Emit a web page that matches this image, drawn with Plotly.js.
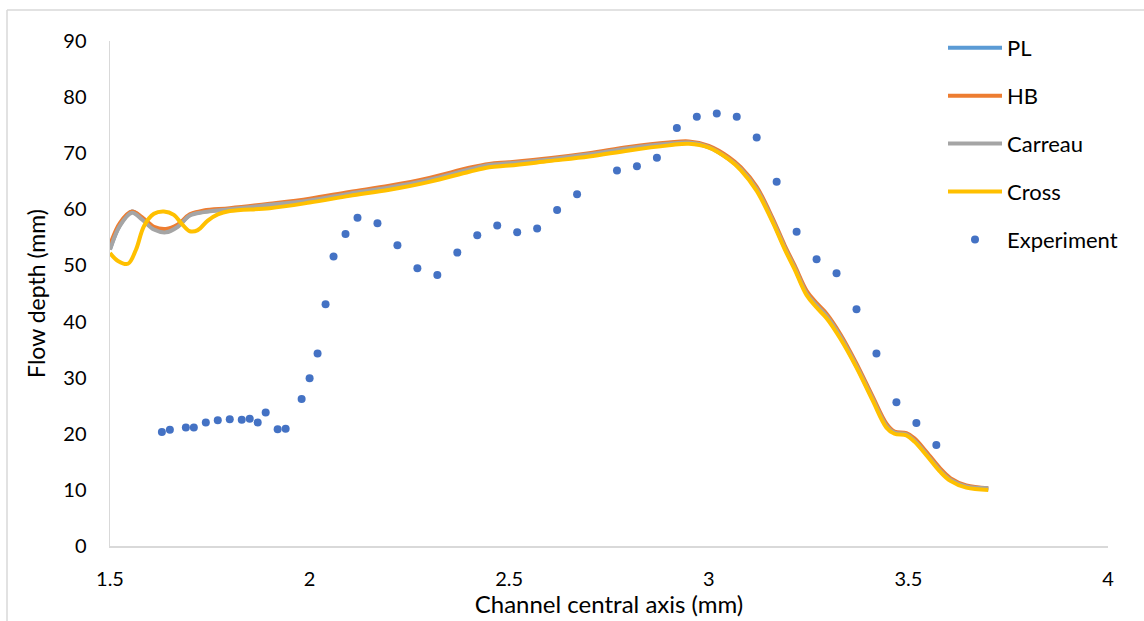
<!DOCTYPE html>
<html>
<head>
<meta charset="utf-8">
<script src="https://cdn.plot.ly/plotly-3.0.1.min.js"></script>
<style>
  html, body { margin: 0; padding: 0; background: #fff; }
  #chart { width: 1144px; height: 621px; }
</style>
</head>
<body>
<div id="chart"></div>
<script>
// Simulated flow depth along the channel axis for four rheology models
const plX = [1.50, 1.525, 1.555, 1.58, 1.61, 1.64, 1.67, 1.70, 1.735, 1.80, 1.90, 2.00, 2.10, 2.20, 2.30, 2.40, 2.45, 2.50, 2.60, 2.70, 2.80, 2.90, 2.95, 3.00, 3.05, 3.08, 3.12, 3.16, 3.19, 3.215, 3.245, 3.27, 3.295, 3.33, 3.37, 3.41, 3.445, 3.465, 3.495, 3.515, 3.545, 3.58, 3.605, 3.645, 3.70];
const plY = [52.9, 57.2, 59.6, 58.4, 56.6, 56.1, 57.0, 59.0, 59.6, 60.0, 60.8, 61.6, 62.8, 63.9, 65.3, 67.1, 67.9, 68.2, 68.9, 69.8, 70.9, 71.7, 71.9, 71.1, 69.0, 67.2, 63.6, 58.0, 53.2, 49.6, 45.0, 42.8, 40.9, 37.2, 32.0, 26.3, 21.4, 20.2, 19.9, 18.8, 16.4, 13.4, 11.8, 10.6, 10.2];

const hbX = [1.50, 1.525, 1.555, 1.58, 1.61, 1.64, 1.67, 1.70, 1.735, 1.80, 1.90, 2.00, 2.10, 2.20, 2.30, 2.40, 2.45, 2.50, 2.60, 2.70, 2.80, 2.90, 2.95, 3.00, 3.05, 3.08, 3.12, 3.16, 3.19, 3.215, 3.245, 3.27, 3.295, 3.33, 3.37, 3.41, 3.445, 3.465, 3.495, 3.515, 3.545, 3.58, 3.605, 3.645, 3.70];
const hbY = [53.6, 57.6, 59.6, 58.6, 56.9, 56.5, 57.3, 59.1, 59.8, 60.2, 61.0, 61.9, 63.1, 64.2, 65.6, 67.4, 68.1, 68.4, 69.1, 70.0, 71.1, 71.9, 72.1, 71.3, 69.3, 67.5, 64.0, 58.4, 53.6, 50.0, 45.5, 43.3, 41.4, 37.7, 32.5, 26.7, 21.8, 20.4, 20.1, 19.2, 16.8, 13.8, 12.1, 10.8, 10.3];

const carreauX = [1.50, 1.525, 1.555, 1.58, 1.61, 1.64, 1.67, 1.70, 1.735, 1.80, 1.90, 2.00, 2.10, 2.20, 2.30, 2.40, 2.45, 2.50, 2.60, 2.70, 2.80, 2.90, 2.95, 3.00, 3.05, 3.08, 3.12, 3.16, 3.19, 3.215, 3.245, 3.27, 3.295, 3.33, 3.37, 3.41, 3.445, 3.465, 3.495, 3.515, 3.545, 3.58, 3.605, 3.645, 3.70];
const carreauY = [52.8, 57.1, 59.4, 58.2, 56.4, 55.9, 56.9, 58.9, 59.5, 60.0, 60.8, 61.6, 62.8, 63.9, 65.3, 67.1, 67.9, 68.2, 68.9, 69.8, 70.9, 71.7, 71.9, 71.1, 69.0, 67.2, 63.6, 58.0, 53.2, 49.6, 45.0, 42.9, 41.0, 37.3, 32.1, 26.3, 21.4, 20.2, 19.9, 18.8, 16.4, 13.4, 11.8, 10.6, 10.3];

const crossX = [1.50, 1.52, 1.545, 1.565, 1.585, 1.61, 1.635, 1.66, 1.68, 1.70, 1.72, 1.745, 1.77, 1.80, 1.90, 2.00, 2.10, 2.20, 2.30, 2.40, 2.45, 2.50, 2.60, 2.70, 2.80, 2.90, 2.95, 3.00, 3.05, 3.08, 3.12, 3.16, 3.19, 3.215, 3.245, 3.27, 3.295, 3.33, 3.37, 3.41, 3.445, 3.465, 3.495, 3.515, 3.545, 3.58, 3.605, 3.645, 3.70];
const crossY = [52.2, 50.8, 50.3, 52.8, 57.0, 59.2, 59.6, 59.0, 57.4, 56.1, 56.3, 58.0, 59.1, 59.7, 60.2, 61.2, 62.4, 63.5, 64.9, 66.7, 67.5, 67.8, 68.6, 69.4, 70.5, 71.4, 71.7, 71.0, 68.9, 67.0, 63.3, 57.7, 52.9, 49.3, 44.7, 42.5, 40.6, 36.9, 31.8, 26.0, 21.1, 20.0, 19.7, 18.6, 16.2, 13.2, 11.6, 10.4, 10.0];

// Measured flow depth
const expX = [1.63, 1.65, 1.69, 1.71, 1.74, 1.77, 1.80, 1.83, 1.85, 1.87, 1.89, 1.92, 1.94, 1.98, 2.00, 2.02, 2.04, 2.06, 2.09, 2.12, 2.17, 2.22, 2.27, 2.32, 2.37, 2.42, 2.47, 2.52, 2.57, 2.62, 2.67, 2.77, 2.82, 2.87, 2.92, 2.97, 3.02, 3.07, 3.12, 3.17, 3.22, 3.27, 3.32, 3.37, 3.42, 3.47, 3.52, 3.57];
const expY = [20.3, 20.7, 21.1, 21.1, 22.0, 22.4, 22.6, 22.5, 22.7, 22.0, 23.8, 20.8, 20.9, 26.2, 29.9, 34.3, 43.1, 51.6, 55.6, 58.5, 57.5, 53.6, 49.5, 48.3, 52.3, 55.4, 57.1, 55.9, 56.6, 59.9, 62.7, 66.9, 67.7, 69.2, 74.5, 76.5, 77.1, 76.5, 72.8, 64.9, 56.0, 51.1, 48.6, 42.2, 34.3, 25.6, 21.9, 18.0];

const xTickVals = [1.5, 2, 2.5, 3, 3.5, 4];
const yTickVals = [0, 10, 20, 30, 40, 50, 60, 70, 80, 90];

const FONT = 'Lato, "Open Sans", sans-serif';

function modelTrace(name, x, y, color, group) {
  return {
    type: 'scatter', mode: 'lines', name: name, x: x, y: y,
    line: { color: color, width: 4, shape: 'spline', smoothing: 1 },
    legendgroup: group
  };
}

const traces = [
  modelTrace('PL', plX, plY, '#5B9BD5', 'g1'),
  modelTrace('HB', hbX, hbY, '#ED7D31', 'g2'),
  modelTrace('Carreau', carreauX, carreauY, '#A5A5A5', 'g3'),
  modelTrace('Cross', crossX, crossY, '#FFC000', 'g4'),
  {
    type: 'scatter', mode: 'markers', name: 'Experiment', x: expX, y: expY,
    marker: { color: '#4472C4', size: 8 },
    legendgroup: 'g5'
  }
];

const W = 1144, H = 621;
const L = 110, R = 36, T = 41, B = 75;
const pw = W - L - R, ph = H - T - B;
const px = v => (v - L) / pw;
const py = v => (H - B - v) / ph;

const layout = {
  width: W, height: H,
  margin: { l: L, r: R, t: T, b: B, pad: 0 },
  paper_bgcolor: '#ffffff',
  plot_bgcolor: '#ffffff',
  font: { family: FONT, size: 20, color: '#000000' },
  showlegend: true,
  legend: {
    x: px(943), y: py(27), xanchor: 'left', yanchor: 'top',
    bgcolor: 'rgba(0,0,0,0)',
    font: { family: FONT, size: 22, color: '#000000' },
    traceorder: 'grouped',
    tracegroupgap: 16.3,
    itemwidth: 54
  },
  xaxis: {
    range: [1.5, 4], tickvals: xTickVals,
    showline: true, linecolor: '#D9D9D9', linewidth: 1.5,
    showgrid: false, zeroline: false, ticks: '',
    ticklabelstandoff: 14,
    tickfont: { family: FONT, size: 20, color: '#000000' },
    title: { text: 'Channel central axis (mm)', font: { family: FONT, size: 24, color: '#000000' }, standoff: 6 }
  },
  yaxis: {
    range: [0, 90], tickvals: yTickVals,
    showline: true, linecolor: '#D9D9D9', linewidth: 1.5,
    showgrid: false, zeroline: false, ticks: '',
    ticklabelstandoff: 18,
    tickfont: { family: FONT, size: 20, color: '#000000' },
    title: { text: 'Flow depth (mm)', font: { family: FONT, size: 23, color: '#000000' }, standoff: 11 }
  },
  shapes: [
    { type: 'line', xref: 'paper', yref: 'paper', x0: px(7), x1: px(W + 5), y0: py(10), y1: py(10), line: { color: '#D9D9D9', width: 1.5 } },
    { type: 'line', xref: 'paper', yref: 'paper', x0: px(7), x1: px(7), y0: py(10), y1: py(H + 5), line: { color: '#D9D9D9', width: 1.5 } }
  ]
};

Plotly.newPlot('chart', traces, layout, { displayModeBar: false, staticPlot: true });
</script>
</body>
</html>
